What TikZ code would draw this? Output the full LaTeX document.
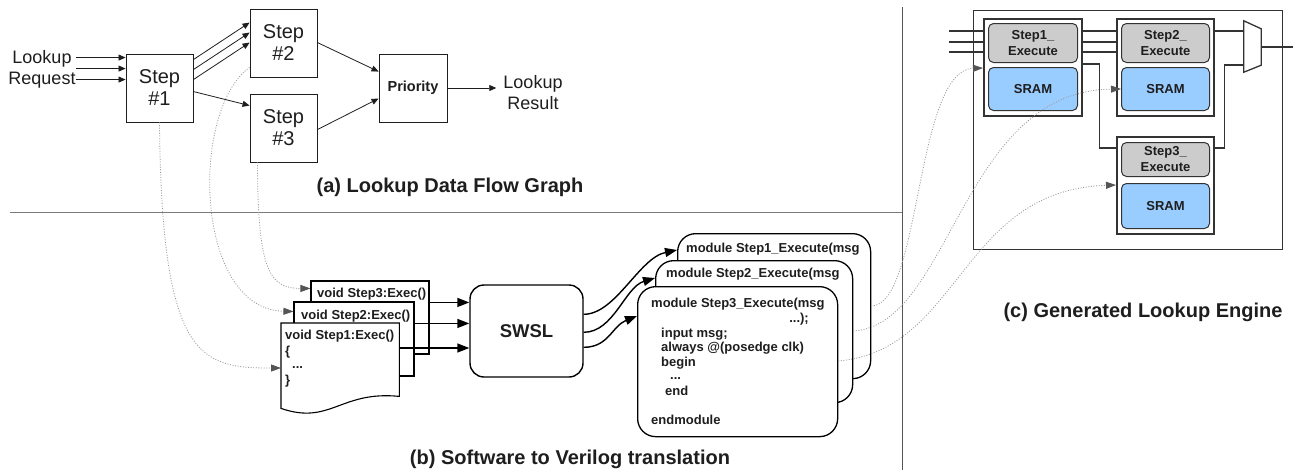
\documentclass[tikz,border=0pt]{standalone}
\usepackage{fontspec}
\setmainfont{Liberation Sans}
\usetikzlibrary{arrows.meta,calc}

\definecolor{ink}{HTML}{1E1E1E}
\definecolor{rulegray}{HTML}{7A7A7A}
\definecolor{vrulegray}{HTML}{555555}
\definecolor{linkgray}{HTML}{9A9A9A}
\definecolor{tipgray}{HTML}{555555}
\definecolor{execgray}{HTML}{CCCCCC}
\definecolor{sramblue}{HTML}{99CCFF}
\definecolor{hw}{HTML}{333333}

\newcommand{\setfs}[2]{\fontsize{#1}{#2}\selectfont}

\tikzset{
  flowbox/.style={draw=ink, line width=0.9pt, inner sep=0pt, minimum width=67pt,
    minimum height=68pt, align=center, text=ink, font=\setfs{20}{22}},
  plain/.style={inner sep=0pt, align=center, text=ink},
  flow/.style={draw=ink, line width=0.8pt, -{Triangle[length=7pt,width=6pt]}},
  caption/.style={inner sep=0pt, text=ink, font=\bfseries\setfs{20}{24}},
  docbox/.style={draw=black, line width=1.1pt, fill=white, inner sep=0pt},
  code/.style={inner sep=0pt, anchor=west, text=ink, text height=10pt, text depth=1pt,
    font=\bfseries\setfs{13}{15}},
  bigflow/.style={draw=black, line width=1.4pt, -{Triangle[length=12pt,width=9pt]}},
  modbox/.style={draw=black, fill=white, line width=1.3pt, rounded corners=18pt, inner sep=0pt},
  hwbox/.style={draw=hw, line width=1.5pt, fill=white, inner sep=0pt, anchor=north west},
  unit/.style={draw=hw, line width=1pt, rounded corners=5pt, inner sep=0pt, anchor=north west,
    align=center, text=ink, font=\bfseries\setfs{13}{16}},
  wire/.style={draw=hw, line width=1.6pt},
  trace/.style={draw=linkgray, line width=0.8pt, dash pattern=on 1pt off 1.6pt,
    -{Triangle[length=10pt,width=7pt,color=tipgray]}},
}

\begin{document}
\begin{tikzpicture}[x=1pt,y=-1pt]
\useasboundingbox (0,0) rectangle (1299,472);
\fill[white] (0,0) rectangle (1299,472);

% ---------- section rules ----------
\coordinate (hl) at (10,212.5);
\coordinate (hr) at (902,212.5);
\coordinate (vt) at (902,7);
\coordinate (vb) at (902,470);
\draw[rulegray, line width=1.3pt] (hl) -- (hr);
\draw[vrulegray, line width=0.9pt] (vt) -- (vb);

% ---------- (a) lookup data flow graph ----------
\node[flowbox] (s1) at (159.5,88) {Step\\\#1};
\node[flowbox] (s2) at (283.5,43) {Step\\\#2};
\node[flowbox] (s3) at (283.5,128) {Step\\\#3};
\node[flowbox, minimum width=68pt, font=\bfseries\setfs{14.5}{17}] (prio) at (413,88) {Priority};
\node[plain, font=\setfs{18}{21}] (req) at (42,69.5) {Lookup\\Request};
\node[plain, font=\setfs{18}{21}] (res) at (533,92.5) {Lookup\\Result};
\node[caption] (capa) at (450,187) {(a) Lookup Data Flow Graph};

\coordinate (in1) at ($(s1.north west)+(0,4)$);
\coordinate (in2) at ($(s1.north west)+(0,15)$);
\coordinate (in3) at ($(s1.north west)+(0,26)$);
\draw[flow] (req.east |- in1) -- (in1);
\draw[flow] (req.east |- in2) -- (in2);
\draw[flow] (req.east |- in3) -- (in3);

\draw[flow] ($(s1.north east)+(0,6)$) -- ($(s2.north west)+(0,14)$);
\draw[flow] ($(s1.north east)+(0,16)$) -- ($(s2.north west)+(0,24)$);
\draw[flow] ($(s1.north east)+(0,26)$) -- ($(s2.north west)+(0,34)$);
\draw[flow] ($(s1.north east)+(0,38)$) -- ($(s3.north west)+(0,12)$);
\draw[flow] ($(s2.north east)+(0,34)$) -- ($(prio.north west)+(0,18)$);
\draw[flow] ($(s3.north east)+(0,36)$) -- ($(prio.north west)+(0,45)$);
\draw[flow] (prio.east) -- ([xshift=-7pt]res.west |- prio.east);

% ---------- (b) software to Verilog translation ----------
\node[docbox, minimum width=118pt, minimum height=73pt] (d3) at (370,317.5) {};
\node[code] (t3) at (317,293) {void Step3:Exec()};
\node[docbox, minimum width=120pt, minimum height=74pt] (d2) at (354,339) {};
\node[code] (t2) at (301,315) {void Step2:Exec()};
\node[inner sep=0pt, minimum width=118pt, minimum height=73pt, anchor=north west] (d1) at (281,323) {};
\draw[docbox] (d1.north west) -- (d1.north east) -- (d1.south east)
  .. controls ($(d1.south east)+(-59,-6)$) and ($(d1.south east)+(-69,29)$) .. ($(d1.south west)+(0,12)$)
  -- cycle;
\node[code] (t1a) at (285,335) {void Step1:Exec()};
\node[code] (t1b) at (285,351) {\{};
\node[code] (t1c) at (292,364) {...};
\node[code] (t1d) at (285,380) {\}};

\node[draw=black, line width=1.4pt, rounded corners=14pt, minimum width=113pt, minimum height=92pt,
  inner sep=0pt, text=ink, font=\bfseries\setfs{18.5}{20}] (swsl) at (526.5,331) {SWSL};

\coordinate (a3) at ($(d3.north east)+(0,22)$);
\coordinate (a2) at ($(d2.north east)+(0,22)$);
\coordinate (a1) at ($(d1.north east)+(0,25)$);
\draw[bigflow] (a3) -- (swsl.west |- a3);
\draw[bigflow] (a2) -- (swsl.west |- a2);
\draw[bigflow] (a1) -- (swsl.west |- a1);

\node[modbox, minimum width=193pt, minimum height=145pt, anchor=north west] (m1) at (677,233) {};
\node[code] (mt1) at (686,248) {module Step1\_Execute(msg};
\node[modbox, minimum width=197pt, minimum height=142pt, anchor=north west] (m2) at (655,260) {};
\node[code] (mt2) at (666,273) {module Step2\_Execute(msg};
\node[modbox, minimum width=200pt, minimum height=150pt, anchor=north west] (m3) at (637,286) {};
\node[code] (v1) at (651,303) {module Step3\_Execute(msg};
\node[code, anchor=east] (v2) at (809,318) {...);};
\node[code] (v3) at (661,333) {input msg;};
\node[code] (v4) at (661,347) {always @(posedge clk)};
\node[code] (v5) at (661,362) {begin};
\node[code] (v6) at (670,375) {...};
\node[code] (v7) at (665,391) {end};
\node[code] (v8) at (651,420) {endmodule};

\coordinate (sw1) at ($(swsl.north east)+(0,30)$);
\coordinate (sw2) at ($(swsl.north east)+(0,48)$);
\coordinate (sw3) at ($(swsl.north east)+(0,63)$);
\draw[bigflow] (sw1) .. controls +(32,0) and +(-38,8) .. ($(m1.north west)+(0,17)$);
\draw[bigflow] (sw2) .. controls +(30,0) and +(-30,9) .. ($(m2.north west)+(0,18)$);
\draw[bigflow] (sw3) .. controls +(25,0) and +(-25,10) .. ($(m3.north west)+(0,30)$);

\node[caption] (capb) at (570,459) {(b) Software to Verilog translation};

% ---------- (c) generated lookup engine ----------
\node[draw=hw, line width=1pt, inner sep=0pt, minimum width=309pt, minimum height=239pt,
  anchor=north west] (eng) at (973,10) {};

\node[hwbox, minimum width=98pt, minimum height=97pt] (c1) at (983,18) {};
\node[unit, fill=execgray, minimum width=89pt, minimum height=39pt] (e1) at (988,23) {Step1\_\\Execute};
\node[unit, fill=sramblue, minimum width=89pt, minimum height=43pt] (r1) at (988,67) {SRAM};

\node[hwbox, minimum width=97pt, minimum height=97pt] (c2) at (1116,18) {};
\node[unit, fill=execgray, minimum width=88pt, minimum height=39pt] (e2) at (1121,23) {Step2\_\\Execute};
\node[unit, fill=sramblue, minimum width=88pt, minimum height=43pt] (r2) at (1121,67) {SRAM};

\node[hwbox, minimum width=97pt, minimum height=97pt] (c3) at (1116,136) {};
\node[unit, fill=execgray, minimum width=88pt, minimum height=34pt] (e3) at (1121,142) {Step3\_\\Execute};
\node[unit, fill=sramblue, minimum width=88pt, minimum height=45pt] (r3) at (1121,183) {SRAM};

% output multiplexer
\node[inner sep=0pt, minimum width=17pt, minimum height=51pt] (mux) at (1252.5,46.5) {};
\draw[hw, line width=1.3pt, fill=white] (mux.north west) -- ($(mux.north east)+(0,8)$)
  -- ($(mux.south east)+(0,-7)$) -- (mux.south west) -- cycle;
\coordinate (out) at (1293,47);
\draw[wire] (mux.east |- out) -- (out);

\coordinate (ia) at (949,31);
\coordinate (ib) at (949,42);
\coordinate (ic) at (949,52);
\foreach \w in {ia,ib,ic} {
  \draw[wire] (\w) -- (c1.west |- \w);
  \draw[wire] (c1.east |- \w) -- (c2.west |- \w);
}
\draw[wire] (c2.east |- ia) -- (mux.west |- ia);
\coordinate (c1o) at ($(c1.north east)+(0,46)$);
\coordinate (c3i) at ($(c3.north west)+(0,12)$);
\coordinate (c3o) at ($(c3.north east)+(0,12)$);
\coordinate (mxi) at ($(mux.north west)+(0,44)$);
\draw[wire] (c1o) -- ++(17,0) |- (c3i);
\draw[wire] (c3o) -- ++(10,0) |- (mxi);

\node[caption] (capc) at (1143,312) {(c) Generated Lookup Engine};

% ---------- mapping traces ----------
\draw[trace] (s1.south) .. controls +(2,238) and +(-80,0) .. ($(d1.north west)+(0,45)$);
\draw[trace] ($(s2.south west)+(0,-10)$) .. controls +(-60,43) and +(-99,-2) .. ($(d2.north west)+(0,10)$);
\draw[trace] ($(s3.south west)+(8,0)$) .. controls +(0,108) and +(-41,0) .. ($(d3.north west)+(0,8)$);

\draw[trace] ($(m1.north east)+(0,73)$) .. controls +(50,0) and +(-68,2) .. ($(c1.north west)+(0,50)$);
\draw[trace] ($(m2.north east)+(0,71)$) .. controls +(98,-6) and +(-160,2) .. (r2.west);
\draw[trace] ($(m3.north east)+(0,75)$) .. controls +(123,-11) and +(-156,5) .. ($(c3.north west)+(0,49)$);
\end{tikzpicture}
\end{document}
